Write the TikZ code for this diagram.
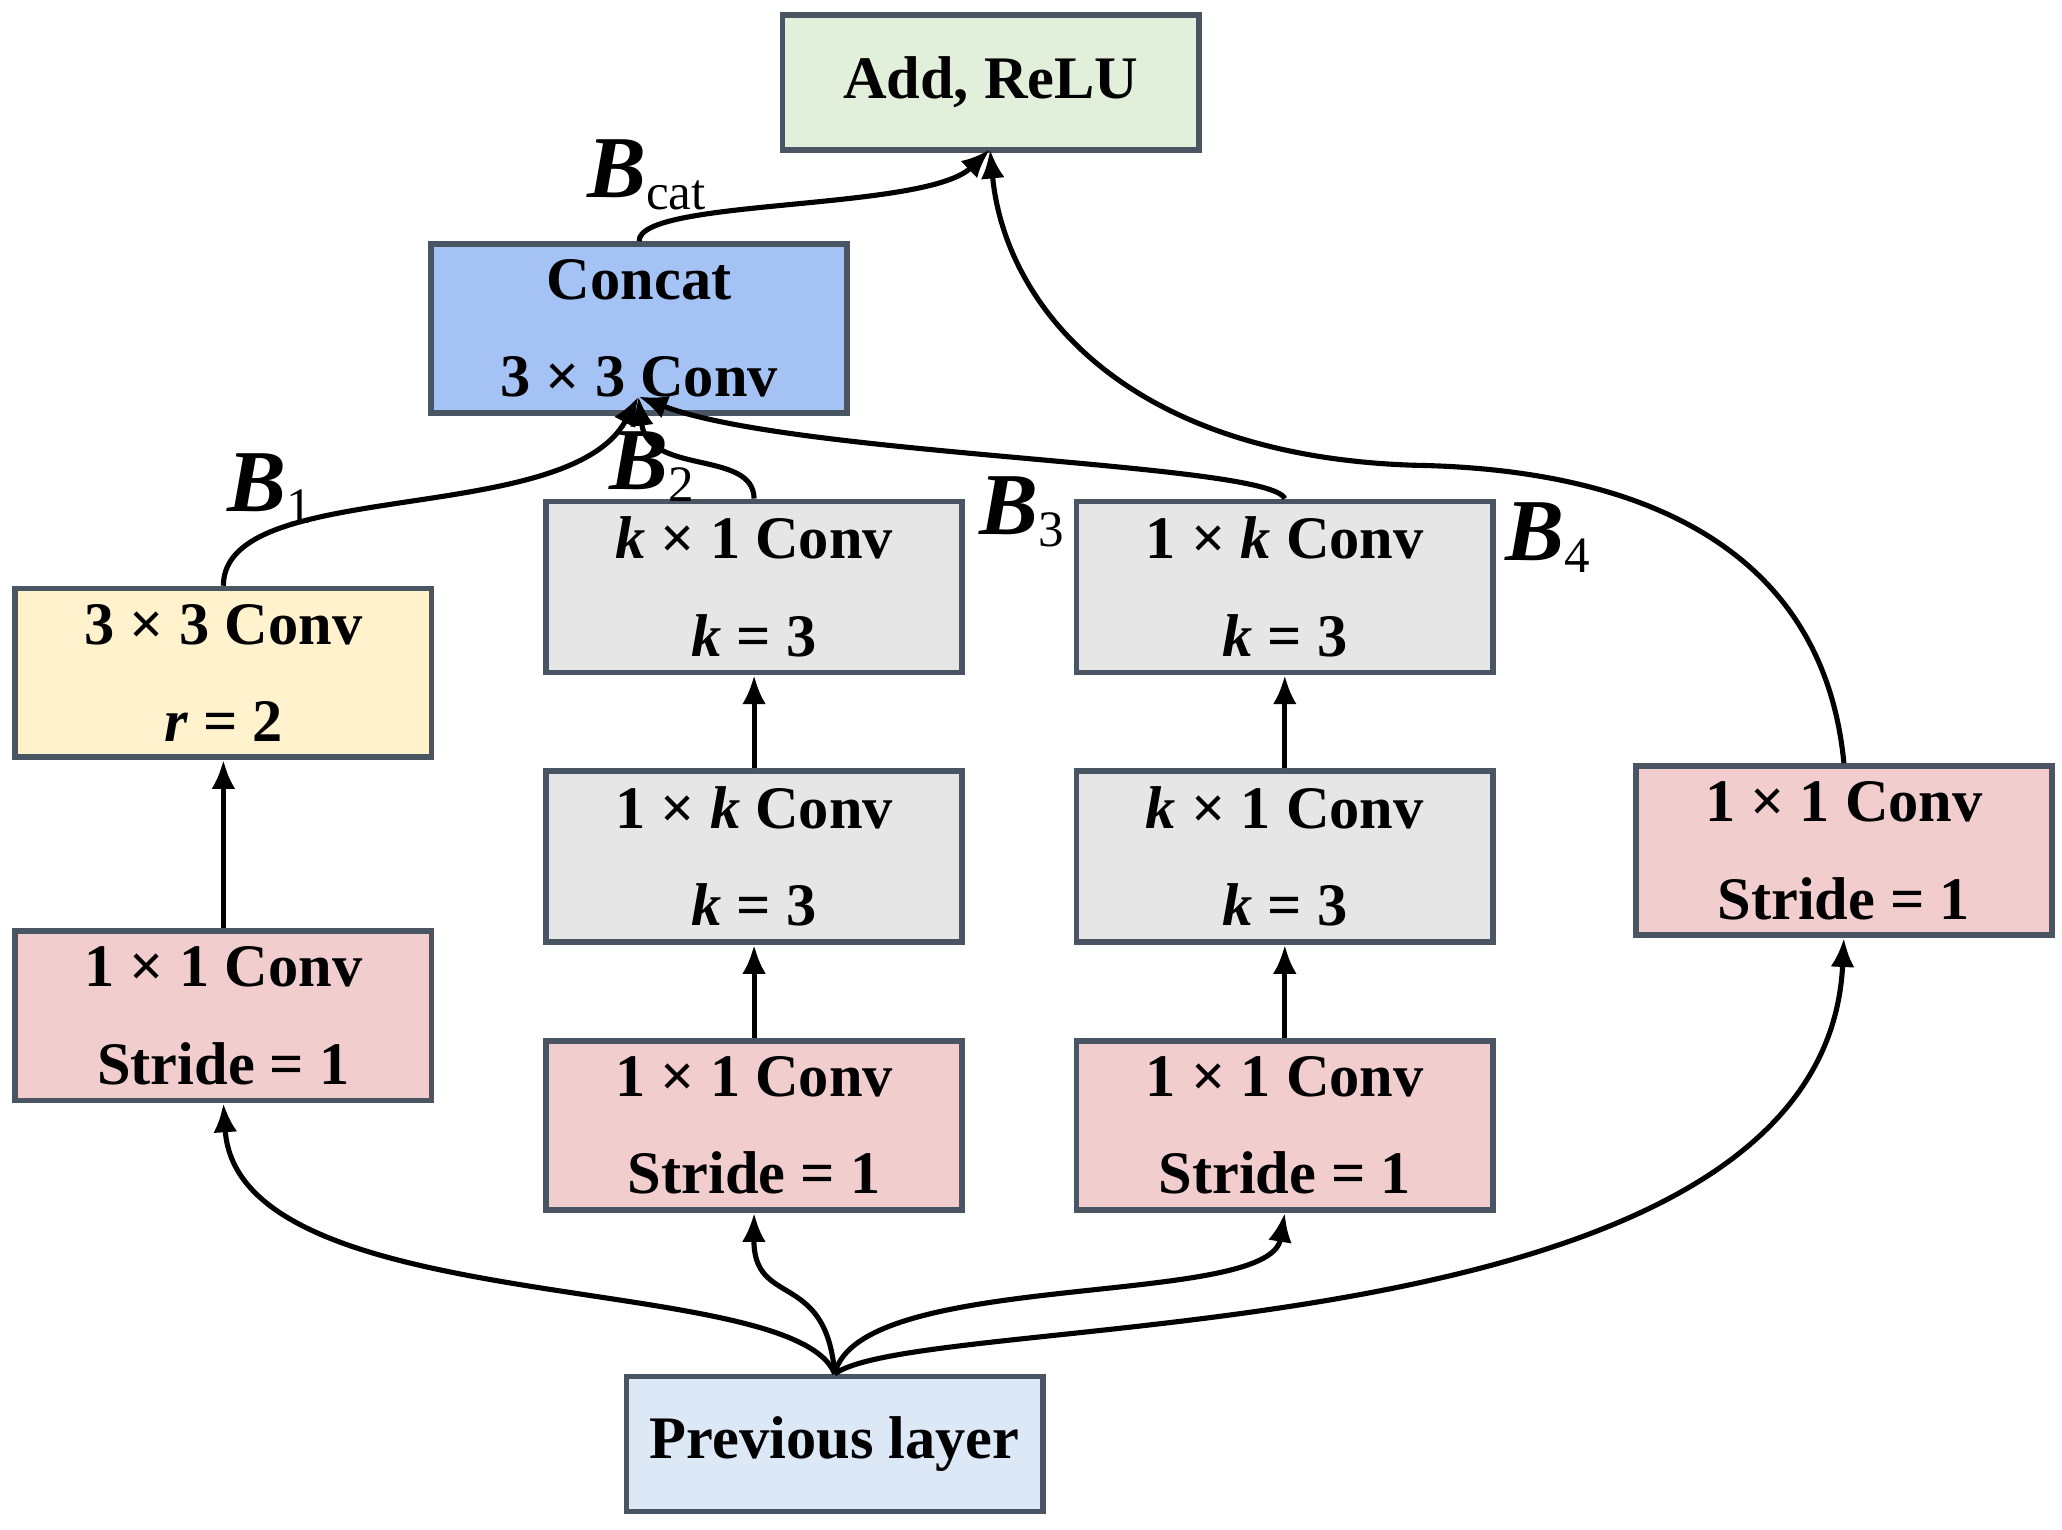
\documentclass[tikz,border=0pt]{standalone}
\usepackage{fontspec}
\setmainfont{Liberation Serif}
\usetikzlibrary{arrows.meta}
\definecolor{bd}{HTML}{4A5563}
\definecolor{red}{HTML}{F2CDCD}
\definecolor{gry}{HTML}{E6E6E6}
\definecolor{yel}{HTML}{FFF2CC}
\definecolor{blu}{HTML}{A4C2F4}
\definecolor{lbl}{HTML}{DCE8F6}
\definecolor{grn}{HTML}{E2EFDA}
\begin{document}
\begin{tikzpicture}[x=0.1mm,y=-0.1mm,
 box/.style={draw=bd,line width=1.2pt,minimum width=31.5mm,minimum height=10.2mm,align=center,font=\fontsize{13}{21}\selectfont\bfseries},
 con/.style={line width=1.1pt,-{Latex[length=2.2mm,width=1.8mm]}},
 lab/.style={font=\fontsize{19}{20}\selectfont\bfseries\itshape}]
\useasboundingbox (0,0) rectangle (1560,1157);
\node[box,fill=grn] (add) at (749.5,62.5) {Add, ReLU};
\node[box,fill=blu] (cat) at (483.5,248.5) {Concat\\3 × 3 Conv};
\node[box,fill=yel] (y) at (169,509) {3 × 3 Conv\\\textit{r} = 2};
\node[box,fill=red] (l1) at (169,768.5) {1 × 1 Conv\\Stride = 1};
\node[box,fill=gry] (m3) at (570.5,444) {\textit{k} × 1 Conv\\\textit{k} = 3};
\node[box,fill=gry] (m2) at (570.5,648) {1 × \textit{k} Conv\\\textit{k} = 3};
\node[box,fill=red] (m1) at (570.5,851.5) {1 × 1 Conv\\Stride = 1};
\node[box,fill=gry] (r3) at (972,444) {1 × \textit{k} Conv\\\textit{k} = 3};
\node[box,fill=gry] (r2) at (972,648) {\textit{k} × 1 Conv\\\textit{k} = 3};
\node[box,fill=red] (r1) at (972,851.5) {1 × 1 Conv\\Stride = 1};
\node[box,fill=red] (f1) at (1395,643.5) {1 × 1 Conv\\Stride = 1};
\node[box,fill=lbl] (prev) at (631.5,1092.5) {Previous layer};
\coordinate (ca) at (483,300);
\coordinate (ad) at (749,113);
\draw[con] (prev.north) .. controls (600,960) and (180,1000) .. (l1.south);
\draw[con] (prev.north) .. controls (625,960) and (570,990) .. (m1.south);
\draw[con] (prev.north) .. controls (650,960) and (960,990) .. (r1.south);
\draw[con] (prev.north) .. controls (700,990) and (1380,1030) .. (f1.south);
\draw[con] (l1.north) -- (y.south);
\draw[con] (m1.north) -- (m2.south);
\draw[con] (m2.north) -- (m3.south);
\draw[con] (r1.north) -- (r2.south);
\draw[con] (r2.north) -- (r3.south);
\draw[con] (y.north) .. controls (169,360) and (430,400) .. (ca);
\draw[con] (m3.north) .. controls (570,340) and (490,360) .. (ca);
\draw[con] (r3.north) .. controls (960,350) and (600,345) .. (ca);
\draw[con] (f1.north) .. controls (1380,420) and (1250,355) .. (1070,352) .. controls (850,345) and (760,230) .. (ad);
\draw[con] (cat.north) .. controls (483,150) and (700,160) .. (ad);
\node[lab] (b1) at (205,370) {B\textsubscript{\normalfont\upshape\fontsize{11}{11}\selectfont 1}};
\node[lab] (b2) at (494,353) {B\textsubscript{\normalfont\upshape\fontsize{11}{11}\selectfont 2}};
\node[lab] (b3) at (774,387) {B\textsubscript{\normalfont\upshape\fontsize{11}{11}\selectfont 3}};
\node[lab] (b4) at (1172,407) {B\textsubscript{\normalfont\upshape\fontsize{11}{11}\selectfont 4}};
\node[lab] (bc) at (490,132) {B\textsubscript{\normalfont\upshape\fontsize{11}{11}\selectfont cat}};
\end{tikzpicture}
\end{document}
